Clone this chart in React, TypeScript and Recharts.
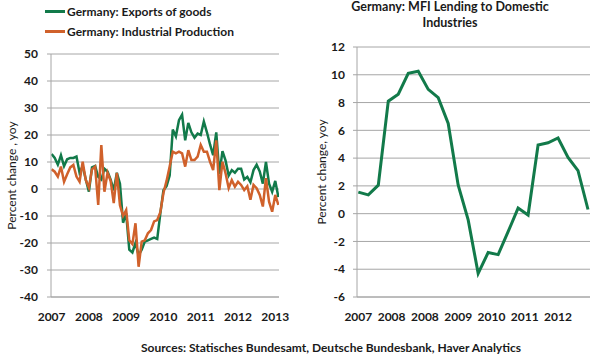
import React from 'react';
import { LineChart, Line, XAxis, YAxis, CartesianGrid, Legend, Label } from 'recharts';

// monthly yoy % change, Jan 2007 .. Feb 2013
const exportsOfGoods = [
  13, 11.5, 9, 12.5, 8.5, 11, 11.5, 11.5, 12, 6,
  8.5, 3.5, -1, 8, 8.5, 4.5, 3.5, 7.5, 6.5, 3.5,
  -0.5, 6, 2, -12.5, -9, -22.5, -23.5, -20, -24.5, -22.5,
  -19.5, -19, -18.5, -18, -18.5, -9, -0.5, 1, 5, 22,
  19.5, 25.5, 27.5, 18, 24.5, 21, 19, 20.5, 20, 25,
  21, 16.5, 12.5, 21, 5.5, 14, 10.5, 5, 7, 6,
  7.5, 7.5, 3.5, 4.5, 2.5, 7, 9, 6.5, 2, 10,
  2, -1, 3, -3,
];
const industrialProduction = [
  7.3, 6.4, 4.6, 8.3, 2.7, 5.5, 8, 8.9, 4.6, 2.7,
  10.1, 3.3, 0.5, 7.3, 8.3, -5.9, 16.3, -1, 6, 3,
  -5.2, 6, -6, -10, -7.8, -19, -20.4, -12.7, -28.8, -19.5,
  -19, -16.4, -15.2, -12, -11.5, -8.6, -1.5, 3, 8.3, 13.8,
  13.2, 13.8, 13.2, 8.3, 14.4, 10.7, 10.7, 12, 16.3, 13.8,
  13.8, 10.1, 7, 18, -0.4, 10.1, 5.8, 0.3, 3.3, 0.9,
  2.7, 1.5, -0.4, 1, -4, 1.5, 0.3, -2.2, -6.5, 4,
  -4.7, -8.4, -2.2, -5.9,
];
// quarterly, 2007 .. 2012
const mfiLending = [
  1.55, 1.35, 2.05, 8.1, 8.6, 10.1, 10.25, 8.95, 8.35, 6.5,
  2.05, -0.45, -4.3, -2.8, -2.95, -1.3, 0.4, -0.1, 4.95, 5.1,
  5.45, 4.05, 3.1, 0.3,
];

const leftYears = ['2007', '2008', '2009', '2010', '2011', '2012', '2013'];
const rightYears = ['2007', '2008', '2008', '2009', '2010', '2011', '2012'];
const leftYTicks = [-40, -30, -20, -10, 0, 10, 20, 30, 40, 50];
const rightYTicks = [-6, -4, -2, 0, 2, 4, 6, 8, 10, 12];

const GREEN = '#127a4a';
const ORANGE = '#d0612b';
const GRID = '#a6a6a6';
const FONT = 'Lato, "Open Sans", sans-serif';

const leftData = exportsOfGoods.map((v, i) => ({ month: i, exports: v, production: industrialProduction[i] }));
const rightData = mfiLending.map((v, i) => ({ month: i * 3, lending: v }));
const leftXTicks = leftYears.map((_, i) => i * 12);
const rightXTicks = rightYears.map((_, i) => i * 10);

const tickStyle = { fill: '#1a1a1a', fontSize: 12, fontWeight: 700, fontFamily: FONT };

const AxisTitle = ({ viewBox, value, x }: any) => {
  const cy = viewBox.y + viewBox.height / 2;
  return (
    <text
      x={x}
      y={cy}
      transform={`rotate(-90 ${x} ${cy})`}
      textAnchor="middle"
      dominantBaseline="central"
      style={{ fontSize: 12, fontFamily: FONT, fill: '#1a1a1a' }}
    >
      {value}
    </text>
  );
};

const LegendContent = ({ payload }: any) => (
  <div style={{ fontFamily: FONT, fontSize: 12, fontWeight: 700, color: '#1a1a1a' }}>
    {(payload || []).map((p: any) => (
      <div key={p.value} style={{ display: 'flex', alignItems: 'center', height: 20, whiteSpace: 'nowrap' }}>
        <span style={{ display: 'inline-block', width: 20, height: 3, background: p.color, marginRight: 2 }} />
        {p.value}
      </div>
    ))}
  </div>
);

export default function App() {
  return (
    <div style={{ position: 'absolute', left: 0, top: 0, width: 600, height: 357, background: '#fff', fontFamily: FONT }}>
      {/* left: exports vs production */}
      <div style={{ position: 'absolute', left: 0, top: 0 }}>
        <LineChart width={300} height={357} data={leftData} margin={{ top: 54, right: 21, bottom: 30, left: 11 }}>
          <CartesianGrid vertical={false} stroke={GRID} />
          <XAxis
            dataKey="month"
            type="number"
            domain={[-0.2, 73.2]}
            allowDataOverflow
            ticks={leftXTicks}
            interval={0}
            tickFormatter={(v) => leftYears[v / 12]}
            axisLine={{ stroke: GRID }}
            tickLine={false}
            tick={tickStyle}
            tickMargin={9}
            height={30}
          />
          <YAxis
            type="number"
            domain={[-40, 50]}
            ticks={leftYTicks}
            interval={0}
            width={40}
            axisLine={{ stroke: GRID }}
            tickLine={{ stroke: GRID }}
            tickSize={4}
            tickMargin={9}
            tick={tickStyle}
          >
            <Label content={(p: any) => <AxisTitle {...p} x={11} value="Percent change , yoy" />} />
          </YAxis>
          <Legend
            layout="horizontal"
            align="center"
            verticalAlign="middle"
            wrapperStyle={{ top: 1, left: 45, width: 'auto' }}
            content={<LegendContent />}
          />
          <Line type="linear" dataKey="exports" name="Germany: Exports of goods" stroke={GREEN} strokeWidth={2.5} dot={false} isAnimationActive={false} />
          <Line type="linear" dataKey="production" name="Germany: Industrial Production" stroke={ORANGE} strokeWidth={2.5} dot={false} isAnimationActive={false} />
        </LineChart>
      </div>

      {/* right: MFI lending */}
      <div style={{ position: 'absolute', left: 300, top: 0 }}>
        <LineChart width={300} height={357} data={rightData} margin={{ top: 47, right: 10, bottom: 30, left: 17 }}>
          <CartesianGrid vertical={false} stroke={GRID} />
          <XAxis
            dataKey="month"
            type="number"
            domain={[-0.4, 69.6]}
            allowDataOverflow
            ticks={rightXTicks}
            interval={0}
            tickFormatter={(v) => rightYears[v / 10]}
            axisLine={{ stroke: GRID }}
            tickLine={false}
            tick={tickStyle}
            tickMargin={9}
            height={30}
          />
          <YAxis
            type="number"
            domain={[-6, 12]}
            ticks={rightYTicks}
            interval={0}
            width={40}
            axisLine={{ stroke: GRID }}
            tickLine={{ stroke: GRID }}
            tickSize={4}
            tickMargin={8}
            tick={tickStyle}
          >
            <Label content={(p: any) => <AxisTitle {...p} x={21} value="Percent change, yoy" />} />
          </YAxis>
          <Line type="linear" dataKey="lending" name="Germany: MFI Lending to Domestic Industries" stroke={GREEN} strokeWidth={3} dot={false} isAnimationActive={false} />
        </LineChart>
      </div>

      <div style={{ position: 'absolute', left: 330, width: 240, top: -1, textAlign: 'center', fontSize: 12.5, fontWeight: 700, lineHeight: '16px', color: '#1a1a1a' }}>
        Germany: MFI Lending to Domestic<br />Industries
      </div>

      <div style={{ position: 'absolute', left: 0, width: 662, top: 340, textAlign: 'center', fontSize: 12, fontWeight: 700, color: '#1a1a1a', whiteSpace: 'nowrap' }}>
        Sources: Statisches Bundesamt, Deutsche Bundesbank, Haver Analytics
      </div>
    </div>
  );
}
